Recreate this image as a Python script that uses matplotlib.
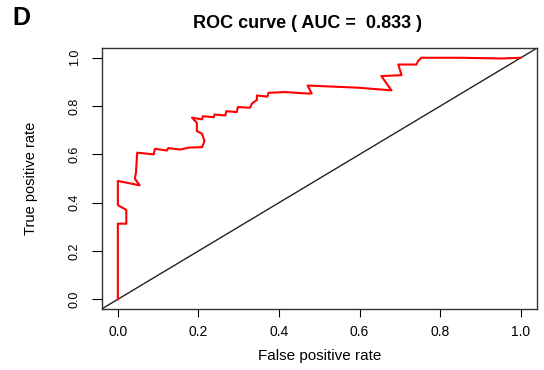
#!/usr/bin/env python3
# ROC curve, panel D
import matplotlib
matplotlib.use('Agg')
import matplotlib.pyplot as plt
from matplotlib import font_manager

# curve
fpr = [0.000, 0.000, 0.021, 0.021, 0.000, 0.000, 0.054, 0.042, 0.045, 0.048,
       0.089, 0.092, 0.122, 0.125, 0.155, 0.176, 0.209, 0.215, 0.209, 0.196,
       0.196, 0.184, 0.209, 0.211, 0.238, 0.240, 0.267, 0.269, 0.295, 0.298,
       0.328, 0.333, 0.345, 0.345, 0.371, 0.374, 0.415, 0.469, 0.481, 0.471,
       0.597, 0.679, 0.654, 0.704, 0.696, 0.741, 0.745, 0.753, 0.850, 0.951,
       1.000]
tpr = [0.000, 0.313, 0.313, 0.370, 0.390, 0.490, 0.472, 0.500, 0.524, 0.607,
       0.600, 0.623, 0.616, 0.626, 0.620, 0.628, 0.630, 0.655, 0.685, 0.697,
       0.731, 0.752, 0.745, 0.758, 0.754, 0.765, 0.761, 0.779, 0.775, 0.796,
       0.793, 0.811, 0.825, 0.844, 0.839, 0.855, 0.858, 0.852, 0.852, 0.885,
       0.876, 0.865, 0.924, 0.928, 0.972, 0.972, 0.986, 1.000, 1.000, 0.997,
       1.000]
auc = 0.833

names = {f.name for f in font_manager.fontManager.ttflist}
narrow = 'Liberation Sans Narrow' if 'Liberation Sans Narrow' in names else 'Liberation Sans'
plt.rcParams['font.family'] = ['Liberation Sans', 'DejaVu Sans']

fig = plt.figure(figsize=(5.44, 3.70), dpi=100)
ax = fig.add_axes([0.187, 0.165, 0.800, 0.705])

ax.plot([-0.1, 1.1], [-0.1, 1.1], color='#222222', lw=1.0)
ax.plot(fpr, tpr, color='#ff0000', lw=1.5)

ax.set_xlim(-0.04, 1.04)
ax.set_ylim(-0.04, 1.04)
ticks = [0.0, 0.2, 0.4, 0.6, 0.8, 1.0]
ax.set_xticks(ticks)
ax.set_yticks(ticks)
ax.set_xticklabels([f'{t:.1f}' for t in ticks], fontsize=10)
ax.set_yticklabels([f'{t:.1f}' for t in ticks], fontsize=9, rotation=90, va='center')
ax.tick_params(axis='x', length=5.5, width=0.8, pad=6)
ax.tick_params(axis='y', length=7, width=0.8, pad=8)
for s in ax.spines.values():
    s.set_linewidth(1.0)
    s.set_color('#333333')

ax.set_xlabel('False positive rate', fontsize=11, labelpad=7)
ax.set_ylabel('True positive rate', fontsize=10.5, family=narrow, labelpad=22)

fig.text(0.566, 0.936, f'ROC curve ( AUC =  {auc} )', ha='center', va='center',
         fontsize=13, fontweight='bold')
fig.text(0.022, 0.952, 'D', ha='left', va='center', fontsize=18, fontweight='bold')

fig.savefig('out.png', dpi=100)
